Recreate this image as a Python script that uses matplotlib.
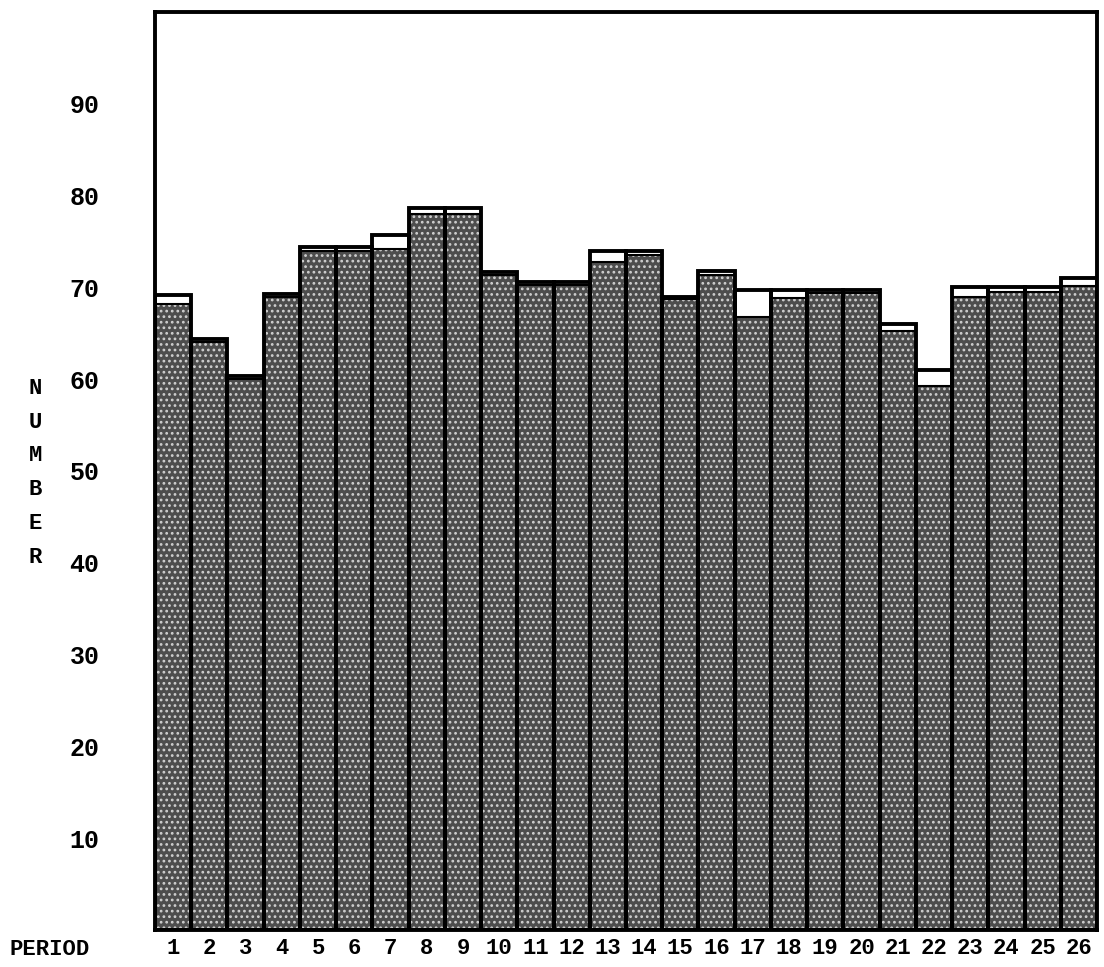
import matplotlib.pyplot as plt
import numpy as np

# bar values (outline = total, shaded = inner fill)
periods = list(range(1, 27))
totals = [69.2, 64.4, 60.4, 69.3, 74.4, 74.4, 75.7, 78.6, 78.7, 71.7, 70.6, 70.6, 74.0,
          74.0, 69.0, 71.8, 69.7, 69.7, 69.7, 69.7, 66.0, 61.0, 70.0, 70.0, 70.0, 71.0]
shaded = [68.2, 64.0, 60.0, 69.0, 74.0, 74.0, 74.2, 78.0, 78.0, 71.4, 70.3, 70.3, 72.8,
          73.5, 68.7, 71.4, 66.8, 68.8, 69.4, 69.4, 65.3, 59.3, 69.0, 69.5, 69.5, 70.2]
yticks = [10, 20, 30, 40, 50, 60, 70, 80, 90]

font = 'Liberation Mono'
plt.rcParams['hatch.linewidth'] = 1.2

fig = plt.figure(figsize=(11.04, 9.67), dpi=100)
ax = fig.add_axes([0.1404, 0.0383, 0.8533, 0.9493])

x = np.array(periods)
# stippled fill
ax.bar(x, shaded, width=1.0, facecolor='#4d4d4d', edgecolor='#d0d0d0',
       linewidth=0, hatch='...', zorder=2)
# thin top edge of the fill
ax.hlines(shaded, x - 0.5, x + 0.5, color='black', linewidth=1.5, zorder=3)
# bar outlines
ax.bar(x, totals, width=1.0, facecolor='none', edgecolor='black',
       linewidth=2.8, zorder=4)

ax.set_xlim(0.5, 26.5)
ax.set_ylim(0, 100)
ax.set_yticks(yticks)
ax.set_yticklabels([str(v) for v in yticks], fontfamily=font, fontweight='bold', fontsize=18)
ax.set_xticks(periods)
ax.set_xticklabels([str(p) for p in periods], fontfamily=font, fontweight='bold', fontsize=16)
ax.tick_params(axis='y', length=0, pad=40)
ax.tick_params(axis='x', length=0, pad=6)
for s in ax.spines.values():
    s.set_linewidth(2.8)

fig.text(0.032, 0.511, "N\nU\nM\nB\nE\nR", ha='center', va='center',
         fontfamily=font, fontweight='bold', fontsize=16, linespacing=1.8)
fig.text(0.009, 0.0176, "PERIOD", ha='left', va='center',
         fontfamily=font, fontweight='bold', fontsize=16)

fig.savefig('out.png', dpi=100)
